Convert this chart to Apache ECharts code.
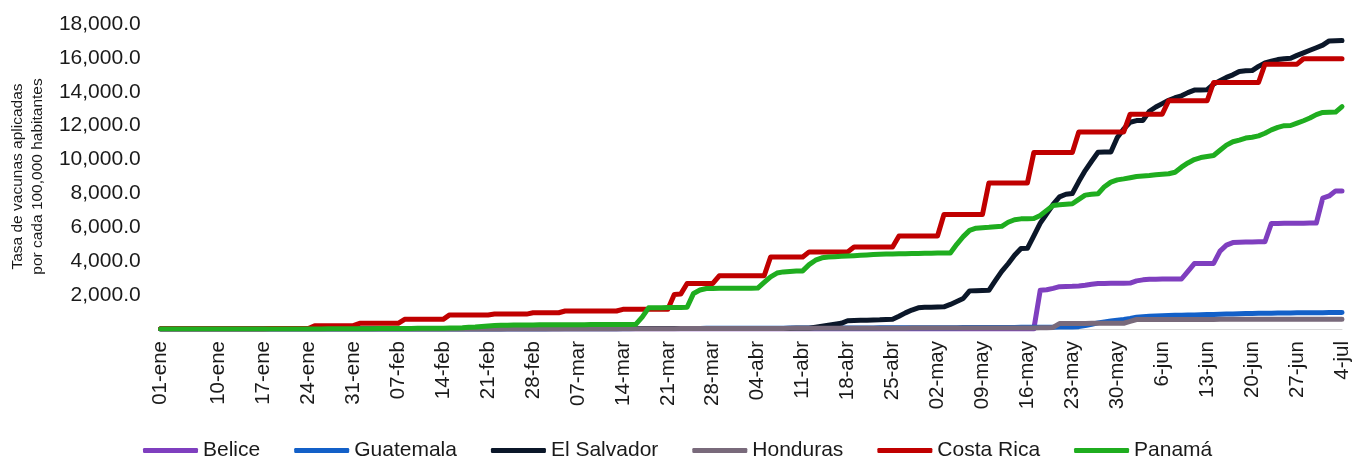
<!DOCTYPE html>
<html>
<head>
<meta charset="utf-8">
<title>Tasa de vacunas aplicadas</title>
<script src="https://cdn.jsdelivr.net/npm/echarts@6/dist/echarts.min.js"></script>
<style>
  html, body { margin: 0; padding: 0; background: #fff; }
  #grafico { width: 1354px; height: 459px; }
</style>
</head>
<body>
<div id="grafico"></div>
<script>
// meses del eje (01-ene ... 4-jul), un punto por dia
var meses = ['ene', 'feb', 'mar', 'abr', 'may', 'jun', 'jul'];
var diasPorMes = [31, 28, 31, 30, 31, 30, 4];

var paises = ['Belice', 'Guatemala', 'El Salvador', 'Honduras', 'Costa Rica', 'Panamá'];
var colores = ['#7F3FBF', '#1360C8', '#0B1729', '#796A7B', '#C00000', '#1FAD1F'];

var belice = [
  0,0,0,0,0,0,0,0,0,0, 0,0,0,0,0,0,0,0,0,0,
  0,0,0,0,0,0,0,0,0,0, 0,0,0,0,0,0,0,0,0,0,
  0,0,0,0,0,0,0,0,0,0, 0,0,0,0,0,0,0,0,0,0,
  0,0,0,0,0,0,0,0,0,0, 0,0,0,0,0,0,0,0,0,0,
  0,0,0,0,0,0,0,0,0,0, 0,0,0,0,0,0,0,0,0,0,
  0,0,0,0,0,0,0,0,0,0, 0,0,0,0,0,0,0,0,0,0,
  0,0,0,0,0,0,0,0,0,0,
  0,0,0,0,0,0,0,2290,2320,2400,
  2500,2510,2520,2540,2580,2640,2680,2690,2695,2700,
  2700,2710,2840,2900,2940,2940,2945,2945,2950,2950,
  3400,3860,3860,3870,3870,4600,4950,5100,5120,5130,
  5140,5150,5150,6230,6230,6235,6240,6240,6245,6250,
  6250,7720,7850,8150,8150
];

var guatemala = [
  0,0,0,0,0,0,0,0,0,0, 0,0,0,0,0,0,0,0,0,0,
  0,0,0,0,0,0,0,0,0,0, 0,0,0,0,0,0,0,0,0,0,
  0,0,0,0,0,0,0,0,0,0,
  0,0,0,0,0,0,2,3,5,6,
  7,8,9,9,10,12,14,15,16,16,
  17,19,21,22,23,23,24,26,28,30,
  31,31,32,34,36,38,39,39,40,42,
  43,45,46,46,47,48,50,51,52,52,
  53,55,57,58,59,59,60,62,63,65,
  66,66,67,69,70,72,73,73,74,76,
  77,79,80,80,81,83,84,86,87,87,
  88,90,92,94,96,96,98,100,104,108,
  112,116,124,140,200,280,360,420,470,520,
  560,620,690,730,750,770,780,795,805,815,
  825,830,842,850,858,870,880,888,900,910,
  920,925,930,935,940,945,950,952,955,958,
  960,965,970,975,980
];

var elSalvador = [
  0,0,0,0,0,0,0,0,0,0, 0,0,0,0,0,0,0,0,0,0,
  0,0,0,0,0,0,0,0,0,0, 0,0,0,0,0,0,0,0,0,0,
  0,0,0,0,0,0,0,0,2,3,
  4,5,6,7,8,9,10,11,12,13,
  14,15,16,17,18,19,20,20,21,21,
  22,22,23,23,24,24,25,25,26,26,
  27,27,28,28,29,29,30,30,31,31,
  32,32,33,33,34,34,35,35,36,38,
  39,40,100,160,220,280,335,490,500,510,
  520,530,540,560,570,750,950,1120,1250,1280,
  1290,1300,1310,1450,1620,1800,2250,2260,2270,2280,
  2850,3400,3850,4350,4750,4760,5500,6250,6800,7350,
  7800,7950,8000,8700,9350,9900,10430,10440,10450,11300,
  11800,12200,12300,12310,12850,13100,13300,13500,13650,13760,
  13950,14100,14110,14120,14450,14650,14850,15000,15200,15240,
  15250,15500,15700,15800,15900,15950,15980,16150,16300,16450,
  16600,16750,17000,17010,17020
];

var honduras = [
  0,0,0,0,0,0,0,0,0,0, 0,0,0,0,0,0,0,0,0,0,
  0,0,0,0,0,0,0,0,0,0, 0,0,0,0,0,0,0,0,0,0,
  0,0,0,0,0,0,0,0,0,0,
  0,0,0,0,0,2,3,3,4,5,
  6,6,7,8,8,9,10,11,11,12,
  13,14,14,15,16,18,19,20,20,21,
  22,23,23,24,26,27,28,28,29,30,
  31,31,32,33,34,35,35,36,37,38,
  38,39,40,41,42,42,43,44,45,45,
  46,47,48,48,49,50,51,52,52,53,
  54,55,55,56,57,58,58,59,60,61,
  61,62,63,64,64,65,66,67,67,90,
  320,325,327,329,330,332,333,335,336,338,
  340,450,560,561,562,563,564,565,565,566,
  566,567,567,568,568,569,569,570,570,570,
  570,571,571,572,572,573,573,574,574,575,
  575,575,576,576,577
];

var costaRica = [
  20,20,20,20,20,20,20,20,20,20,
  20,20,20,20,20,20,20,25,25,25,
  25,25,25,25,195,195,195,195,195,195,
  195,335,335,335,335,335,335,335,570,570,
  570,570,570,570,570,830,830,830,830,830,
  830,830,880,880,880,880,880,880,960,960,
  960,960,960,1060,1060,1060,1060,1060,1060,1060,
  1060,1060,1160,1160,1160,1160,1160,1160,1160,1160,
  2040,2060,2690,2690,2690,2690,2690,3140,3140,3140,
  3140,3140,3140,3140,3140,4250,4250,4250,4250,4250,
  4250,4550,4550,4550,4550,4550,4550,4550,4840,4840,
  4840,4840,4840,4840,4840,5490,5490,5490,5490,5490,
  5490,5490,6760,6760,6760,6760,6760,6760,6760,8620,
  8620,8620,8620,8620,8620,8620,10410,10410,10410,10410,
  10410,10410,10410,11630,11630,11630,11630,11630,11630,11630,
  11630,12680,12680,12680,12680,12680,12680,13470,13470,13470,
  13470,13470,13470,13470,14550,14550,14550,14550,14550,14550,
  14550,14550,15630,15630,15630,15630,15630,15630,15950,15950,
  15950,15950,15950,15950,15950
];

var panama = [
  0,0,0,0,0,0,0,0,0,0, 0,0,0,0,0,0,0,0,0,0,
  1,2,3,4,5,6,8,10,12,14,
  16,18,20,22,24,26,28,30,32,35,
  38,41,44,47,50,53,56,70,100,120,
  150,180,200,215,225,235,238,240,242,244,
  246,248,250,252,254,256,258,260,262,264,
  266,268,270,272,274,700,1250,1255,1260,1265,
  1270,1275,1280,2100,2300,2390,2395,2400,2400,2400,
  2400,2405,2410,2415,2750,3080,3300,3370,3400,3420,
  3430,3800,4060,4200,4250,4270,4290,4310,4330,4350,
  4370,4390,4410,4420,4430,4440,4445,4450,4460,4470,
  4475,4480,4485,4490,5000,5450,5820,5950,5980,6000,
  6030,6060,6300,6450,6500,6510,6520,6700,7000,7290,
  7330,7360,7390,7650,7900,7950,7980,8400,8670,8800,
  8860,8930,9000,9030,9060,9100,9130,9160,9250,9550,
  9800,10000,10120,10180,10240,10550,10850,11050,11150,11270,
  11320,11400,11550,11750,11900,12000,12010,12150,12290,12450,
  12650,12780,12790,12800,13120
];

var valores = [belice, guatemala, elSalvador, honduras, costaRica, panama];

// etiquetas de fecha: dd-mmm (jun y jul sin cero inicial, como en el original)
var fechas = [];
for (var m = 0; m < meses.length; m++) {
  for (var d = 1; d <= diasPorMes[m]; d++) {
    var dia = (m < 5 && d < 10) ? '0' + d : String(d);
    fechas.push(dia + '-' + meses[m]);
  }
}

var fuente = 'Arial, "Liberation Sans", sans-serif';

var grafico = echarts.init(document.getElementById('grafico'));

var series = paises.map(function (p, k) {
  return {
    name: p,
    type: 'line',
    data: valores[k],
    symbol: 'none',
    smooth: false,
    color: colores[k],
    lineStyle: { width: 5, color: colores[k], cap: 'round', join: 'round' }
  };
});

var option = {
  animation: false,
  backgroundColor: '#ffffff',
  textStyle: { fontFamily: fuente },
  grid: { left: 154, right: 12, top: 24, bottom: 130 },
  legend: {
    left: 138,
    top: 435,
    icon: 'roundRect',
    itemWidth: 55,
    itemHeight: 5,
    itemGap: 34,
    itemTextGap: 2,
    textStyle: { fontSize: 21, color: '#1a1a1a', fontFamily: fuente },
    data: paises
  },
  xAxis: {
    type: 'category',
    data: fechas,
    boundaryGap: false,
    axisLine: { show: true, lineStyle: { color: '#d9d9d9', width: 1 } },
    axisTick: { show: false },
    splitLine: { show: false },
    axisLabel: {
      rotate: 90,
      fontSize: 20.5,
      color: '#1a1a1a',
      fontFamily: fuente,
      margin: 12,
      interval: function (i) {
        return i === 0 || (i >= 9 && (i - 2) % 7 === 0);
      }
    }
  },
  yAxis: {
    type: 'value',
    min: 0,
    max: 18000,
    interval: 2000,
    name: 'Tasa de vacunas aplicadas\npor cada 100,000 habitantes',
    nameLocation: 'middle',
    nameRotate: 90,
    nameGap: 105,
    nameTextStyle: { fontSize: 15.5, lineHeight: 20, color: '#1a1a1a', fontFamily: fuente },
    axisLine: { show: false },
    axisTick: { show: false },
    splitLine: { show: false },
    axisLabel: {
      fontSize: 21,
      color: '#1a1a1a',
      fontFamily: fuente,
      margin: 20,
      formatter: function (v) {
        if (v === 0) return '';
        return v.toLocaleString('en-US', { minimumFractionDigits: 1, maximumFractionDigits: 1 });
      }
    }
  },
  series: series
};

grafico.setOption(option);

window.onresize = function () {
  grafico.resize();
};
</script>
</body>
</html>
